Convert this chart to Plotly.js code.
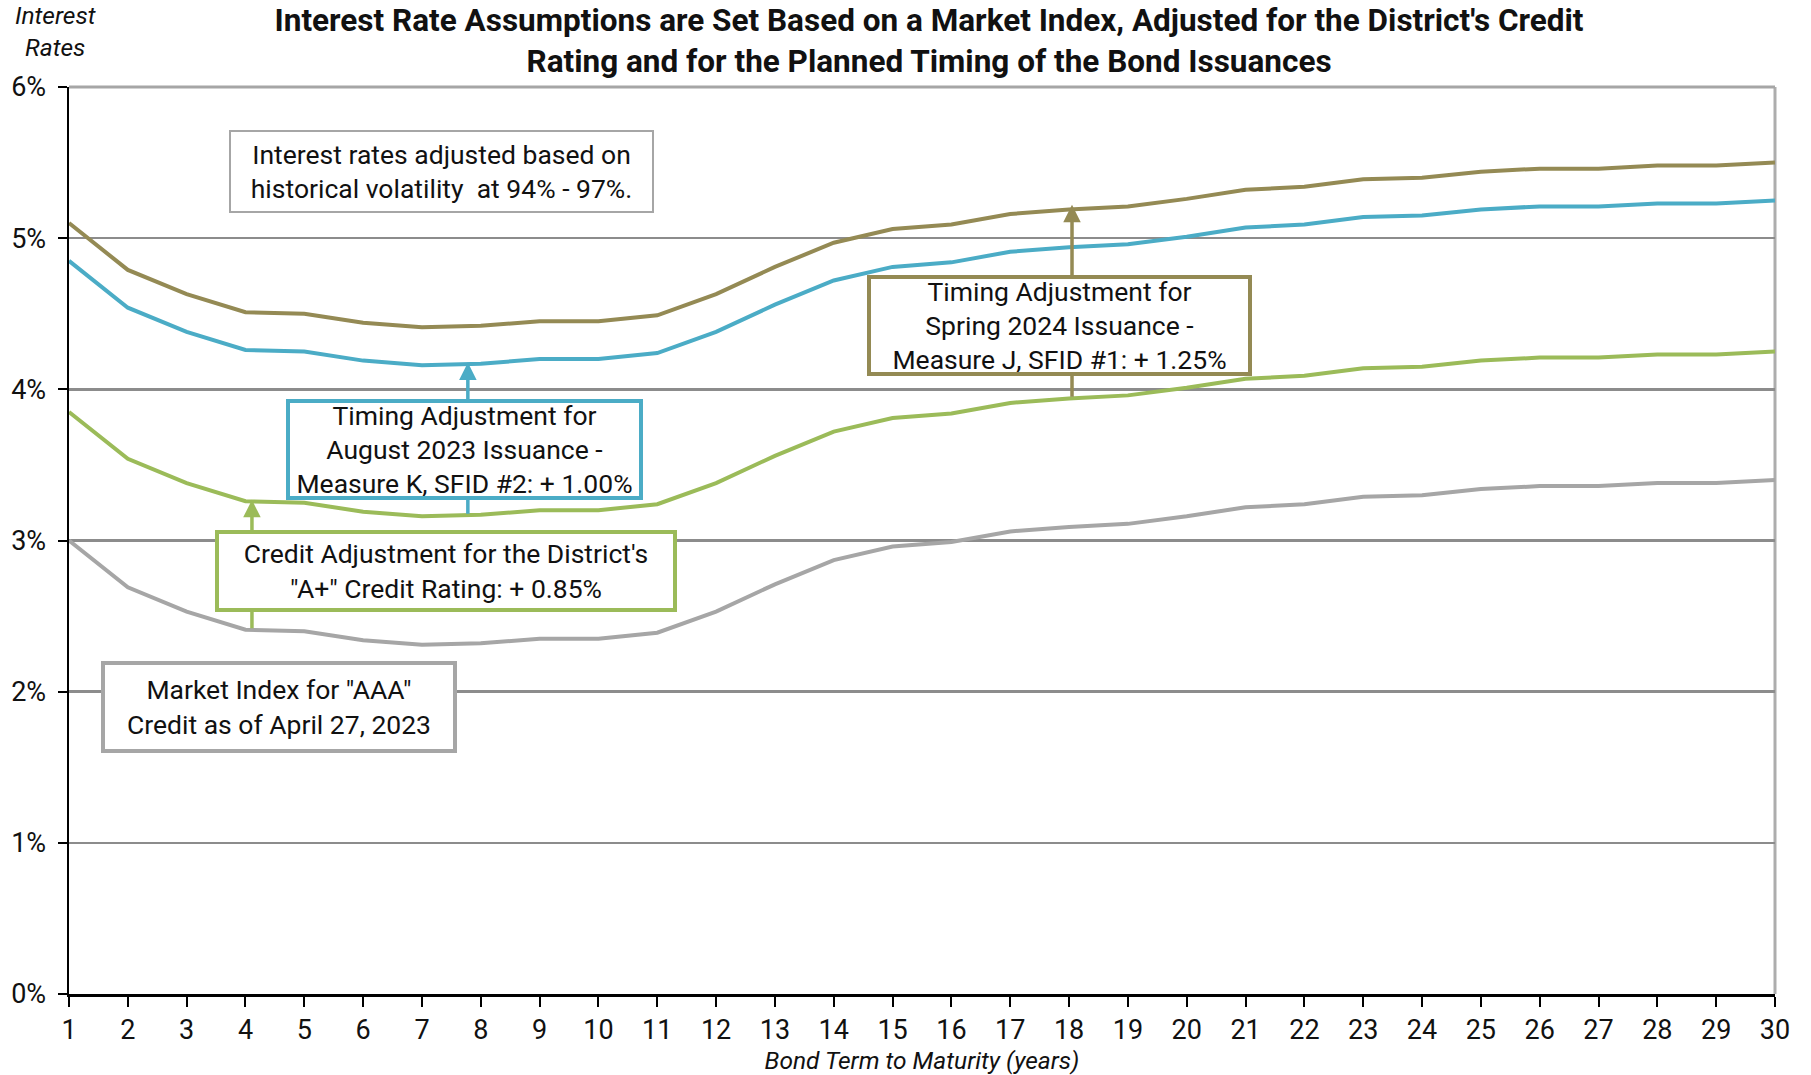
<!DOCTYPE html>
<html>
<head>
<meta charset="utf-8">
<script src="https://cdn.plot.ly/plotly-3.0.1.min.js"></script>
<style>
  html, body { margin: 0; padding: 0; background: #ffffff; }
  #chart { width: 1811px; height: 1075px; }
</style>
</head>
<body>
<div id="chart"></div>
<script>
// ---- Data ----
const years = [1,2,3,4,5,6,7,8,9,10,11,12,13,14,15,16,17,18,19,20,21,22,23,24,25,26,27,28,29,30];

// Market Index for "AAA" Credit as of April 27, 2023
const marketIndex = [3.00,2.69,2.53,2.41,2.40,2.34,2.31,2.32,2.35,2.35,2.39,2.53,2.71,2.87,2.96,2.99,3.06,3.09,3.11,3.16,3.22,3.24,3.29,3.30,3.34,3.36,3.36,3.38,3.38,3.40];
// Credit adjustment for the District's "A+" rating
const creditAdjusted = [3.85,3.54,3.38,3.26,3.25,3.19,3.16,3.17,3.20,3.20,3.24,3.38,3.56,3.72,3.81,3.84,3.91,3.94,3.96,4.01,4.07,4.09,4.14,4.15,4.19,4.21,4.21,4.23,4.23,4.25];
// Timing adjustment for August 2023 issuance (Measure K, SFID #2)
const august2023 = [4.85,4.54,4.38,4.26,4.25,4.19,4.16,4.17,4.20,4.20,4.24,4.38,4.56,4.72,4.81,4.84,4.91,4.94,4.96,5.01,5.07,5.09,5.14,5.15,5.19,5.21,5.21,5.23,5.23,5.25];
// Timing adjustment for Spring 2024 issuance (Measure J, SFID #1)
const spring2024 = [5.10,4.79,4.63,4.51,4.50,4.44,4.41,4.42,4.45,4.45,4.49,4.63,4.81,4.97,5.06,5.09,5.16,5.19,5.21,5.26,5.32,5.34,5.39,5.40,5.44,5.46,5.46,5.48,5.48,5.50];

const yTickVals = [0,1,2,3,4,5,6];
const yTickText = ["0%","1%","2%","3%","4%","5%","6%"];

const seriesNames = ['Market Index for "AAA" Credit', 'Credit Adjustment "A+"', 'August 2023 Issuance', 'Spring 2024 Issuance'];
const colors = { gray: '#A6A6A6', green: '#9BBB59', blue: '#4BACC6', brown: '#948A54' };

// linear interpolation on a series at fractional year
function interp(series, x) {
  const i = Math.floor(x) - 1;
  const f = x - Math.floor(x);
  if (i >= series.length - 1) return series[series.length - 1];
  return series[i] + (series[i + 1] - series[i]) * f;
}

const FONT = 'Roboto, "Open Sans", sans-serif';
const BOXFONT = 26.5;

const traces = [
  { x: years, y: marketIndex, name: seriesNames[0], line: { color: colors.gray, width: 4 } },
  { x: years, y: creditAdjusted, name: seriesNames[1], line: { color: colors.green, width: 4 } },
  { x: years, y: august2023, name: seriesNames[2], line: { color: colors.blue, width: 4 } },
  { x: years, y: spring2024, name: seriesNames[3], line: { color: colors.brown, width: 4 } }
].map(t => Object.assign({ type: 'scatter', mode: 'lines', hoverinfo: 'x+y', cliponaxis: false }, t));

// arrows: from lower curve up to upper curve at a given year position
function arrow(xPos, lower, upper, color, tipNudge) {
  return {
    x: xPos, y: interp(upper, xPos) + (tipNudge || 0), xref: 'x', yref: 'y',
    ax: xPos, ay: interp(lower, xPos), axref: 'x', ayref: 'y',
    text: '', showarrow: true, arrowhead: 2, arrowsize: 1.0, arrowwidth: 3.5,
    arrowcolor: color, standoff: 0, startstandoff: 0
  };
}

function box(text, x, y, w, h, color, bw) {
  return {
    text: text, x: x, y: y, xref: 'x', yref: 'y', showarrow: false,
    xanchor: 'center', yanchor: 'middle', align: 'center',
    width: w - bw, height: h - bw, borderpad: 0,
    bgcolor: '#ffffff', bordercolor: color, borderwidth: bw,
    font: { family: FONT, size: BOXFONT, color: '#111111' }
  };
}

const annotations = [
  arrow(7.78, creditAdjusted, august2023, colors.blue, 0.01),
  arrow(4.11, marketIndex, creditAdjusted, colors.green, 0.01),
  arrow(18.05, creditAdjusted, spring2024, colors.brown, 0.03),
  box('Interest rates adjusted based on<br>historical volatility  at 94% - 97%.', 7.34, 5.44, 423, 81, '#A6A6A6', 2),
  box('Timing Adjustment for<br>August 2023 Issuance -<br>Measure K, SFID #2: + 1.00%', 7.73, 3.605, 353, 97, colors.blue, 4),
  box('Credit Adjustment for the District\'s<br>"A+" Credit Rating: + 0.85%', 7.41, 2.80, 458, 78, colors.green, 4),
  box('Timing Adjustment for<br>Spring 2024 Issuance -<br>Measure J, SFID #1: + 1.25%', 17.84, 4.42, 381, 97, colors.brown, 4),
  box('Market Index for "AAA"<br>Credit as of April 27, 2023', 4.57, 1.90, 352, 88, '#A6A6A6', 4),
  {
    text: '<i>Interest<br>Rates</i>', xref: 'paper', yref: 'paper',
    x: -0.008, y: 1.061, xanchor: 'center', yanchor: 'middle', showarrow: false,
    font: { family: FONT, size: 24.5, color: '#111111' }
  }
];

const layout = {
  width: 1811, height: 1075,
  margin: { l: 69, r: 36, t: 87, b: 81 },
  paper_bgcolor: '#ffffff', plot_bgcolor: '#ffffff',
  showlegend: false,
  font: { family: FONT, size: 26, color: '#111111' },
  title: {
    text: 'Interest Rate Assumptions are Set Based on a Market Index, Adjusted for the District\'s Credit<br>Rating and for the Planned Timing of the Bond Issuances',
    font: { family: FONT, size: 31.5, weight: 700, color: '#111111' },
    xref: 'container', x: 0.513, xanchor: 'center',
    yref: 'container', y: 0.9715, yanchor: 'middle'
  },
  xaxis: {
    range: [1, 30], tickmode: 'array', tickvals: years, ticktext: years.map(String),
    showgrid: false, zeroline: false,
    showline: true, linecolor: '#000000', linewidth: 3,
    ticks: 'outside', ticklen: 10, tickwidth: 2, tickcolor: '#000000',
    ticklabelstandoff: 0,
    tickfont: { family: FONT, size: 27, color: '#111111' },
    title: { text: '<i>Bond Term to Maturity (years)</i>', font: { family: FONT, size: 24.5, color: '#111111' }, standoff: 11 },
    fixedrange: true
  },
  yaxis: {
    range: [0, 6], tickmode: 'array', tickvals: yTickVals, ticktext: yTickText,
    showgrid: true, gridcolor: '#8C8C8C', gridwidth: 2.5,
    zeroline: false,
    showline: true, linecolor: '#000000', linewidth: 2.5,
    ticks: 'outside', ticklen: 9, tickwidth: 2, tickcolor: '#000000',
    ticklabelstandoff: 6,
    tickfont: { family: FONT, size: 27, color: '#111111' },
    fixedrange: true
  },
  shapes: [
    // right border of plot area
    { type: 'line', xref: 'paper', yref: 'paper', x0: 1, x1: 1, y0: 0, y1: 1, line: { color: '#ADADAD', width: 3 }, layer: 'below' },
    // top border
    { type: 'line', xref: 'paper', yref: 'paper', x0: 0, x1: 1, y0: 1, y1: 1, line: { color: '#A6A6A6', width: 3 }, layer: 'below' }
  ],
  annotations: annotations
};

Plotly.newPlot('chart', traces, layout, { displayModeBar: false, staticPlot: true });
</script>
</body>
</html>
